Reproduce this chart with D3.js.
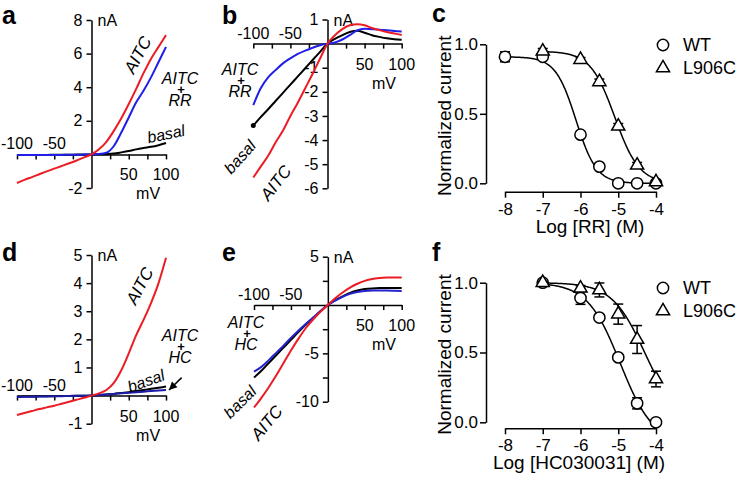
<!DOCTYPE html>
<html>
<head>
<meta charset="utf-8">
<script src="https://cdn.jsdelivr.net/npm/d3@7"></script>
<style>
  body { margin: 0; background: #fff; }
  svg { display: block; font-family: Arial, "Liberation Sans", Helvetica, sans-serif; }
  .axis path, .axis line { stroke: #000; stroke-width: 1.5; }
  .axis text { font-family: Arial, "Liberation Sans", Helvetica, sans-serif; fill: #000; }
  .iv text { font-size: 16px; }
  .dr text { font-size: 17px; }
</style>
</head>
<body>
<svg></svg>
<script>
// ramp voltages (mV) and axis ticks for the I-V panels
const mV = [-100, -90, -80, -70, -60, -50, -40, -30, -20, -10, 0, 10, 20, 30, 40, 50, 60, 70, 80, 90, 100];
const xTicks = [-100, -75, -50, -25, 25, 50, 75, 100];
const xLabNeg = [-100, -50];
const xLabPos = [50, 100];

// a: currents (nA)
const aBasal  = [-0.03, -0.03, -0.03, -0.03, -0.03, -0.02, -0.02, -0.02, -0.01, -0.01, 0, 0.01, 0.02, 0.05, 0.12, 0.2, 0.3, 0.38, 0.45, 0.55, 0.68];
const aAITC   = [-1.7, -1.52, -1.35, -1.18, -1.01, -0.85, -0.69, -0.53, -0.36, -0.18, 0, 0.3, 0.75, 1.4, 2.15, 3.0, 3.9, 4.85, 5.7, 6.4, 7.1];
const aAITCRR = [-0.04, -0.04, -0.04, -0.04, -0.03, -0.03, -0.03, -0.02, -0.02, -0.01, 0, 0.02, 0.1, 0.5, 1.3, 2.2, 3.1, 3.8, 4.6, 5.5, 6.4];

// b
const bBasal  = [-3.4, -3.05, -2.72, -2.38, -2.04, -1.7, -1.36, -1.02, -0.68, -0.34, 0, 0.2, 0.35, 0.48, 0.53, 0.45, 0.35, 0.28, 0.22, 0.18, 0.16];
const bAITC   = [-5.55, -5.1, -4.65, -4.1, -3.6, -3.0, -2.45, -1.85, -1.25, -0.62, 0, 0.35, 0.6, 0.76, 0.8, 0.76, 0.65, 0.56, 0.48, 0.42, 0.36];
const bAITCRR = [-2.55, -1.85, -1.4, -1.1, -0.82, -0.61, -0.43, -0.29, -0.17, -0.07, 0, 0.05, 0.17, 0.35, 0.55, 0.62, 0.6, 0.58, 0.55, 0.52, 0.5];

// d
const dBasal  = [-0.04, -0.036, -0.032, -0.028, -0.024, -0.02, -0.016, -0.012, -0.008, -0.004, 0, 0.02, 0.04, 0.06, 0.09, 0.12, 0.16, 0.2, 0.24, 0.28, 0.32];
const dAITC   = [-0.69, -0.62, -0.55, -0.48, -0.42, -0.36, -0.29, -0.22, -0.15, -0.08, 0, 0.08, 0.2, 0.45, 0.9, 1.5, 2.15, 2.7, 3.3, 4.0, 4.9];
const dAITCHC = [-0.05, -0.045, -0.04, -0.035, -0.03, -0.025, -0.02, -0.015, -0.01, -0.005, 0, 0.02, 0.04, 0.06, 0.08, 0.1, 0.12, 0.14, 0.16, 0.18, 0.2];

// e
const eBasal  = [-7.5, -6.8, -6.0, -5.2, -4.4, -3.6, -2.8, -2.05, -1.35, -0.65, 0, 0.5, 0.9, 1.25, 1.5, 1.65, 1.72, 1.75, 1.75, 1.75, 1.75];
const eAITC   = [-10.6, -9.6, -8.5, -7.3, -6.0, -4.7, -3.5, -2.4, -1.5, -0.7, 0, 0.7, 1.3, 1.8, 2.2, 2.5, 2.7, 2.8, 2.85, 2.85, 2.85];
const eAITCHC = [-6.9, -6.4, -5.7, -4.95, -4.2, -3.4, -2.65, -1.95, -1.3, -0.62, 0, 0.45, 0.85, 1.15, 1.35, 1.45, 1.5, 1.5, 1.5, 1.48, 1.45];

// c: RR dose response (log M, normalized current)
const cWTconc = [-8, -7, -6, -5.5, -5, -4.5, -4];
const cWT     = [0.91, 0.91, 0.35, 0.12, 0.0, 0.0, 0.0];
const cWTerr  = [0.036, 0.015, 0.015, 0.015, 0.01, 0.01, 0.01];
const cMutConc = [-7, -6, -5.5, -5, -4.5, -4];
const cMut     = [0.95, 0.89, 0.73, 0.41, 0.13, 0.01];
const cMutErr  = [0.02, 0.015, 0.02, 0.02, 0.02, 0.01];
// Hill fits: [top, bottom, logIC50, hill]
const cWTfit  = [0.91, 0, -6.12, 1.6];
const cMutFit = [0.95, 0, -5.09, 1.34];

// f: HC030031 dose response
const fConc   = [-7, -6, -5.5, -5, -4.5, -4];
const fWT     = [1.0, 0.89, 0.75, 0.465, 0.136, 0.0];
const fWTerr  = [0.01, 0.045, 0.02, 0.02, 0.04, 0.01];
const fMut    = [1.0, 0.96, 0.948, 0.775, 0.593, 0.31];
const fMutErr = [0.01, 0.02, 0.05, 0.072, 0.1, 0.056];
const fWTfit  = [1.0, -0.15, -4.95, 1.0];
const fMutFit = [1.0, 0, -4.3, 1.0];

const RED = '#ec1c24';

const svg = d3.select('svg').attr('width', 742).attr('height', 479);

function label(g, txt, x, y, opts) {
  opts = opts || {};
  const t = g.append('text')
    .attr('x', x).attr('y', y)
    .attr('text-anchor', opts.anchor || 'middle')
    .attr('dominant-baseline', opts.baseline || 'auto')
    .attr('font-size', opts.size || 16)
    .attr('font-style', opts.italic ? 'italic' : 'normal')
    .attr('font-weight', opts.bold ? 'bold' : 'normal')
    .text(txt);
  if (opts.rot) t.attr('transform', `rotate(${opts.rot},${x},${y})`);
  return t;
}

// "AITC / + / RR" style stacked label
function stack(g, x, y, bottom) {
  label(g, 'AITC', x, y, {italic: true, size: 16, baseline: 'central'});
  label(g, '+', x + 1, y + 11, {size: 13, baseline: 'central', bold: true});
  label(g, bottom, x, y + 22, {italic: true, size: 16, baseline: 'central'});
}

function drawIV(p) {
  const x = d3.scaleLinear().domain([-100, 100]).range(p.xRange);
  const y = d3.scaleLinear().domain(p.yDomain).range(p.yRange);
  const g = svg.append('g');

  g.append('g').attr('class', 'axis iv')
    .attr('transform', `translate(0,${y(0)})`)
    .call(d3.axisBottom(x).tickValues(xTicks).tickSize(5).tickSizeOuter(0).tickFormat(''));

  g.append('g').attr('class', 'axis iv')
    .attr('transform', `translate(${x(0)},0)`)
    .call(d3.axisLeft(y).tickValues(p.yTicks).tickSize(5).tickSizeOuter(0).tickPadding(4)
      .tickFormat(d => p.yLabels.includes(d) ? String(d) : ''));

  g.selectAll('.xneg').data(xLabNeg).join('text')
    .attr('x', d => x(d)).attr('y', y(0) - 5)
    .attr('text-anchor', 'middle').attr('font-size', 16)
    .text(d => String(d));
  g.selectAll('.xpos').data(xLabPos).join('text')
    .attr('x', d => x(d)).attr('y', y(0) + 26)
    .attr('text-anchor', 'middle').attr('font-size', 16)
    .text(d => String(d));
  label(g, 'mV', x(76), y(0) + 45);
  label(g, 'nA', x(0) + 6, y(p.yDomain[0]) + 6, {anchor: 'start'});

  const line = d3.line()
    .x((d, i) => x(mV[i]))
    .y(d => y(d))
    .curve(d3.curveMonotoneX);

  p.traces.forEach(t => {
    g.append('path').datum(t.values)
      .attr('fill', 'none')
      .attr('stroke', t.color)
      .attr('stroke-width', 2)
      .attr('d', line);
  });
  return {g, x, y};
}

function hill(p, lx) {
  return p[1] + (p[0] - p[1]) / (1 + Math.pow(10, (lx - p[2]) * p[3]));
}

function drawDR(p) {
  const x = d3.scaleLinear().domain([-8, -4]).range([505, 656]);
  const y = d3.scaleLinear().domain([0, 1]).range(p.yRange);
  const g = svg.append('g');

  g.append('g').attr('class', 'axis dr')
    .attr('transform', 'translate(486,0)')
    .call(d3.axisLeft(y).tickValues([0, 0.5, 1]).tickSize(6).tickSizeOuter(0).tickPadding(2)
      .tickFormat(d3.format('.1f')));
  g.append('g').attr('class', 'axis dr')
    .attr('transform', `translate(0,${p.xAxisY})`)
    .call(d3.axisBottom(x).tickValues([-8, -7, -6, -5, -4]).tickSize(6).tickSizeOuter(0).tickPadding(5)
      .tickFormat(d => String(d)));

  label(g, 'Normalized current', 451, (p.yRange[0] + p.yRange[1]) / 2 + 2, {size: 19, rot: -90});
  label(g, p.xTitle, p.xTitleX, p.xAxisY + 41, {size: 19});

  const line = d3.line().x(d => x(d[0])).y(d => y(d[1]));
  p.series.forEach(s => {
    const pts = d3.range(s.fitFrom, -4 + 1e-9, 0.02).map(lx => [lx, hill(s.fit, lx)]);
    g.append('path').datum(pts)
      .attr('fill', 'none').attr('stroke', '#000').attr('stroke-width', 1.5)
      .attr('d', line);
  });

  p.series.forEach(s => {
    const pts = s.conc.map((c, i) => ({c, v: s.vals[i], e: s.errs[i]}));
    const eb = g.append('g').attr('stroke', '#000').attr('stroke-width', 1.5);
    pts.forEach(d => {
      eb.append('line').attr('x1', x(d.c)).attr('x2', x(d.c))
        .attr('y1', y(d.v - d.e)).attr('y2', y(d.v + d.e));
      [d.v - d.e, d.v + d.e].forEach(v => {
        eb.append('line').attr('x1', x(d.c) - 5).attr('x2', x(d.c) + 5)
          .attr('y1', y(v)).attr('y2', y(v));
      });
    });
    g.selectAll(null).data(pts).join('path')
      .attr('transform', d => `translate(${x(d.c)},${y(d.v)})`)
      .attr('d', d3.symbol(s.shape, s.size)())
      .attr('fill', '#fff').attr('stroke', '#000').attr('stroke-width', 1.5);
  });

  // legend
  p.series.forEach((s, i) => {
    const ly = p.legendY + i * 23;
    g.append('path')
      .attr('transform', `translate(663,${ly})`)
      .attr('d', d3.symbol(s.shape, s.size)())
      .attr('fill', '#fff').attr('stroke', '#000').attr('stroke-width', 1.5);
    label(g, s.name, 683, ly, {anchor: 'start', baseline: 'central', size: 18});
  });
}

// panel a
const pa = drawIV({
  xRange: [17, 166], yDomain: [8, -2], yRange: [20, 188],
  yTicks: [8, 6, 4, 2, -2], yLabels: [8, 6, 4, 2, -2],
  traces: [
    {values: aBasal, color: '#000'},
    {values: aAITCRR, color: '#1f1fe8'},
    {values: aAITC, color: RED}
  ]
});
label(pa.g, 'AITC', 138, 55, {italic: true, size: 17, rot: -62, baseline: 'central'});
stack(pa.g, 180, 78, 'RR');
label(pa.g, 'basal', 166, 134, {italic: true, size: 16, rot: -12, baseline: 'central'});

// panel b
const pb = drawIV({
  xRange: [253.3, 401.7], yDomain: [1, -6], yRange: [19.5, 188.3],
  yTicks: [1, -1, -2, -3, -4, -5, -6], yLabels: [1, -1, -2, -3, -4, -5, -6],
  traces: [
    {values: bBasal, color: '#000'},
    {values: bAITCRR, color: '#1f1fe8'},
    {values: bAITC, color: RED}
  ]
});
pb.g.append('circle').attr('cx', pb.x(mV[0])).attr('cy', pb.y(bBasal[0])).attr('r', 2.5).attr('fill', '#000');
stack(pb.g, 240, 69, 'RR');
label(pb.g, 'basal', 240, 157, {italic: true, size: 16, rot: -48, baseline: 'central'});
label(pb.g, 'AITC', 276, 183, {italic: true, size: 17, rot: -52, baseline: 'central'});

// panel c
drawDR({
  yRange: [183.3, 44.3], xAxisY: 191.7, xTitle: 'Log [RR] (M)', xTitleX: 590, legendY: 45,
  series: [
    {name: 'WT', conc: cWTconc, vals: cWT, errs: cWTerr, fit: cWTfit, fitFrom: -8, shape: d3.symbolCircle, size: 100},
    {name: 'L906C', conc: cMutConc, vals: cMut, errs: cMutErr, fit: cMutFit, fitFrom: -7, shape: d3.symbolTriangle, size: 75}
  ]
});

// panel d
const pd = drawIV({
  xRange: [17, 166], yDomain: [5, -1], yRange: [255, 423.7],
  yTicks: [5, 4, 3, 2, 1, -1], yLabels: [5, 4, 3, 2, 1, -1],
  traces: [
    {values: dBasal, color: '#000'},
    {values: dAITCHC, color: '#1c1ca8'},
    {values: dAITC, color: RED}
  ]
});
label(pd.g, 'AITC', 140, 286, {italic: true, size: 17, rot: -62, baseline: 'central'});
stack(pd.g, 180, 335, 'HC');
label(pd.g, 'basal', 146, 381, {italic: true, size: 16, rot: -20, baseline: 'central'});
// arrow to the AITC + HC trace
const ax0 = pd.x(121), ay0 = pd.y(0.64), ax1 = pd.x(104), ay1 = pd.y(0.2);
pd.g.append('line').attr('x1', ax0).attr('y1', ay0).attr('x2', ax1).attr('y2', ay1)
  .attr('stroke', '#000').attr('stroke-width', 1.5);
const ang = Math.atan2(ay1 - ay0, ax1 - ax0);
const head = [[0, 0], [-8, -4], [-8, 4]].map(([u, v]) =>
  [ax1 + u * Math.cos(ang) - v * Math.sin(ang), ay1 + u * Math.sin(ang) + v * Math.cos(ang)]);
pd.g.append('path').attr('d', 'M' + head.join('L') + 'Z').attr('fill', '#000');

// panel e
const pe = drawIV({
  xRange: [254, 401.7], yDomain: [5, -10], yRange: [256.7, 401.7],
  yTicks: [5, 2.5, -2.5, -5, -7.5, -10], yLabels: [5, -5, -10],
  traces: [
    {values: eBasal, color: '#000'},
    {values: eAITCHC, color: '#2323d0'},
    {values: eAITC, color: RED}
  ]
});
stack(pe.g, 246, 322, 'HC');
label(pe.g, 'basal', 240, 402, {italic: true, size: 16, rot: -45, baseline: 'central'});
label(pe.g, 'AITC', 267, 423, {italic: true, size: 17, rot: -50, baseline: 'central'});

// panel f
drawDR({
  yRange: [422.3, 282.7], xAxisY: 428.3, xTitle: 'Log [HC030031] (M)', xTitleX: 579, legendY: 288,
  series: [
    {name: 'WT', conc: fConc, vals: fWT, errs: fWTerr, fit: fWTfit, fitFrom: -7, shape: d3.symbolCircle, size: 100},
    {name: 'L906C', conc: fConc, vals: fMut, errs: fMutErr, fit: fMutFit, fitFrom: -7, shape: d3.symbolTriangle, size: 75}
  ]
});

// panel letters
[['a', 2, 24], ['b', 222, 24], ['c', 432, 22], ['d', 2, 261], ['e', 222, 261], ['f', 432, 261]]
  .forEach(([t, x, y]) => label(svg, t, x, y, {anchor: 'start', bold: true, size: 25}));
</script>
</body>
</html>
